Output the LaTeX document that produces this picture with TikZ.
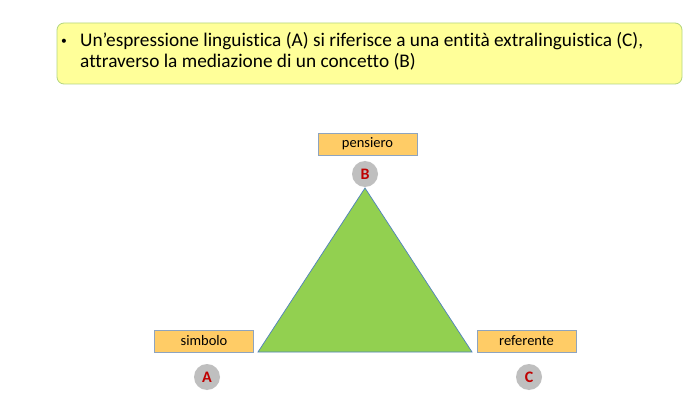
\documentclass[tikz,border=0pt]{standalone}
\usepackage{fontspec}
\setmainfont{Carlito}[Ligatures=NoCommon]
\definecolor{boxyellow}{HTML}{FFFF99}
\definecolor{boxgreen}{HTML}{B3D580}
\definecolor{lblfill}{HTML}{FFCC66}
\definecolor{lbldraw}{HTML}{8EA4BF}
\definecolor{trifill}{HTML}{92D050}
\definecolor{tridraw}{HTML}{4F81BD}
\definecolor{circfill}{HTML}{BFBFBF}
\definecolor{letred}{HTML}{C00000}
\begin{document}
\begin{tikzpicture}[x=1pt,y=-1pt,
  lbl/.style={draw=lbldraw,fill=lblfill,line width=0.8pt,minimum width=99pt,minimum height=22pt,inner sep=0pt,font=\fontsize{14.5}{16}\selectfont},
  letcirc/.style={circle,fill=circfill,minimum size=26pt,inner sep=0pt,text=letred,font=\fontsize{16}{18}\selectfont\bfseries}]
\useasboundingbox (0,0) rectangle (699,406);
\fill[white] (0,0) rectangle (699,406);
\node[draw=boxgreen,fill=boxyellow,rounded corners=7pt,line width=0.8pt,minimum width=625pt,minimum height=61pt,inner sep=0pt] (top) at (369.5,53.5) {};
\node[anchor=north west,inner sep=0pt,align=left,font=\fontsize{19.3}{21}\selectfont] (txt) at (61,32)
 {\makebox[19pt][l]{\raisebox{2pt}{\scalebox{0.6}{•}}}Un’espressione linguistica (A) si riferisce a una entità extralinguistica (C),\\
  \hspace*{19pt}attraverso la mediazione di un concetto (B)};
\coordinate (apex) at (365,188);
\coordinate (bl) at (258,352);
\coordinate (br) at (472,352);
\draw[fill=trifill,draw=tridraw,line width=0.7pt] (apex) -- (bl) -- (br) -- cycle;
\node[lbl] (pens) at (367.5,144) {pensiero};
\node[lbl] (simb) at (204,341) {simbolo};
\node[lbl] (ref) at (526.5,341) {referente};
\node[letcirc] (B) at (365,174) {B};
\node[letcirc] (A) at (207,377) {A};
\node[letcirc] (C) at (529,377) {C};
\end{tikzpicture}
\end{document}
